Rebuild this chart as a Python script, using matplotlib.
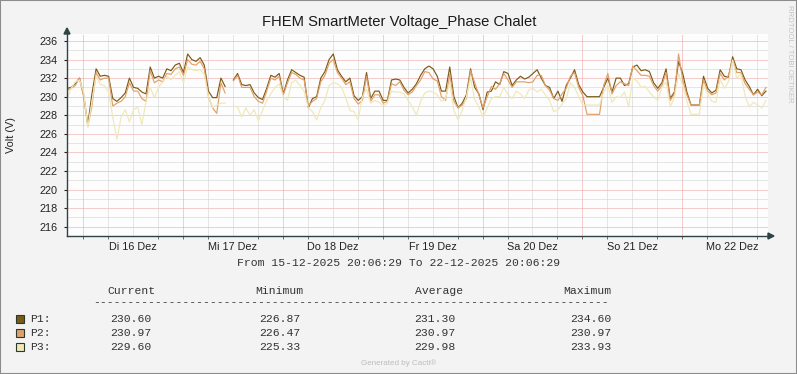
import numpy as np
import pandas as pd
import matplotlib
matplotlib.use('Agg')
import matplotlib.pyplot as plt
from matplotlib.patches import Rectangle, Polygon
from matplotlib.lines import Line2D

plt.rcParams['font.family'] = ['Liberation Sans', 'DejaVu Sans']

# hourly values, starting 15-12-2025 20:06:29
p1 = [230.9, 231.0, 231.4, 232.0, 230.2, 227.0, 230.3, 233.0, 232.2, 232.3, 232.2, 229.8,
      229.5, 229.9, 230.4, 232.0, 231.0, 230.9, 230.5, 230.3, 233.2, 232.0, 232.2, 232.0,
      233.0, 232.8, 233.4, 233.6, 232.6, 234.6, 234.0, 233.8, 234.2, 233.4, 230.6, 229.9,
      229.9, 232.0, 231.1, np.nan, 231.8, 232.5, 231.3, 231.2, 231.3, 230.4, 229.9, 229.7,
      230.9, 232.3, 232.1, 232.5, 230.3, 231.8, 232.9, 232.6, 232.3, 232.1, 228.8, 229.8,
      230.0, 232.0, 232.7, 234.0, 234.6, 232.9, 232.2, 231.6, 232.0, 230.1, 229.6, 230.0,
      232.6, 229.8, 230.6, 230.6, 229.6, 229.6, 231.8, 231.9, 231.8, 231.0, 230.4, 230.8,
      231.4, 232.3, 233.0, 233.3, 233.0, 232.2, 230.6, 230.6, 233.2, 230.0, 228.8, 229.3,
      230.2, 233.0, 231.0, 230.3, 228.6, 230.5, 230.6, 231.6, 231.3, 232.7, 232.5, 231.2,
      231.8, 232.2, 231.9, 232.1, 232.5, 232.9, 232.0, 231.2, 231.0, 229.8, 230.6, 229.5,
      231.2, 232.0, 232.9, 231.3, 230.5, 230.0, 230.0, 230.0, 230.0, 231.0, 232.0, 230.5,
      232.0, 232.0, 231.2, 231.4, 233.2, 233.4, 232.8, 232.9, 232.7, 231.5, 230.9, 231.5,
      233.0, 229.8, 230.5, 233.8, 232.5, 230.5, 229.1, 229.1, 229.1, 232.2, 230.9, 230.4,
      230.7, 232.9, 232.2, 232.1, 234.3, 233.0, 232.9, 231.8, 231.1, 230.2, 230.8, 230.1,
      230.6]
p2 = [230.7, 230.9, 231.2, 232.0, 230.0, 226.8, 229.0, 232.6, 231.8, 232.0, 232.0, 229.0,
      229.3, 229.5, 230.0, 231.5, 230.6, 230.6, 229.8, 229.5, 232.8, 231.5, 231.8, 231.6,
      232.5, 232.4, 233.0, 233.2, 232.3, 234.0, 233.5, 233.4, 233.8, 233.0, 230.0, 228.8,
      228.2, 231.5, 230.4, np.nan, 231.7, 232.3, 231.0, 231.0, 231.0, 230.0, 229.5, 229.3,
      230.6, 232.0, 231.8, 232.2, 230.2, 231.5, 232.6, 232.4, 232.0, 231.8, 229.0, 229.5,
      229.8, 231.6, 232.3, 233.6, 234.0, 232.6, 232.0, 231.3, 231.6, 229.8, 229.2, 229.6,
      232.2, 229.5, 230.2, 230.2, 229.3, 229.5, 231.4, 231.2, 231.6, 230.7, 230.2, 230.5,
      231.2, 231.8, 232.7, 232.6, 231.9, 231.7, 230.0, 229.6, 232.4, 229.5, 228.8, 229.1,
      229.8, 232.8, 231.5, 230.2, 228.8, 230.0, 231.1, 230.8, 231.4, 232.5, 231.8, 231.0,
      231.6, 231.6, 231.6, 231.5, 231.6, 232.3, 232.3, 231.2, 230.7, 229.8, 229.6, 230.3,
      230.9, 232.2, 232.6, 231.0, 230.1, 228.1, 228.1, 228.1, 228.1, 231.2, 232.5, 230.3,
      231.2, 231.6, 231.4, 231.2, 233.3, 232.8, 232.3, 232.3, 232.2, 231.2, 230.6, 231.2,
      232.6, 229.6, 230.3, 234.6, 231.8, 230.2, 229.1, 229.1, 229.1, 231.8, 230.6, 230.2,
      230.4, 232.5, 231.8, 232.3, 234.0, 232.6, 232.6, 231.4, 230.8, 230.2, 230.5, 230.2,
      231.0]
p3 = [229.8, 230.9, 231.6, 231.8, 230.5, 226.7, 229.5, 232.3, 231.3, 231.2, 230.5, 227.8,
      225.4, 227.8, 228.6, 227.3, 228.6, 228.9, 227.0, 229.5, 231.0, 229.9, 231.0, 231.6,
      232.2, 231.8, 232.3, 232.7, 231.5, 233.2, 232.9, 232.8, 232.9, 232.4, 230.0, 228.8,
      229.1, 229.3, 229.3, np.nan, 229.0, 228.9, 227.8, 228.8, 228.0, 228.6, 227.4, 228.5,
      229.6, 230.3, 231.0, 231.4, 230.0, 229.6, 231.5, 231.8, 231.2, 230.6, 228.8, 228.4,
      227.5, 228.8, 229.6, 231.2, 231.5, 231.4, 231.0, 229.9, 228.5, 228.4, 227.5, 230.0,
      230.8, 229.3, 229.6, 229.4, 229.0, 229.3, 230.6, 230.5, 230.5, 230.3, 229.6, 228.9,
      228.0, 229.5, 230.4, 230.6, 230.5, 230.2, 229.5, 229.8, 231.6, 228.5, 227.5, 228.5,
      230.0, 232.0, 229.7, 228.9, 227.8, 228.8, 229.8, 230.0, 230.0, 231.0, 230.2, 229.8,
      230.6, 230.3, 229.8, 230.7, 230.9, 230.5, 230.8, 230.2, 229.6, 228.4, 228.6, 229.2,
      229.8, 231.5, 231.0, 230.0, 229.1, 229.1, 229.1, 229.1, 229.1, 230.5, 231.2, 229.4,
      230.0, 229.9, 230.5, 228.9, 232.0, 231.7, 231.0, 231.1, 230.5, 230.0, 229.6, 231.0,
      231.6, 228.9, 229.9, 232.5, 231.2, 229.5, 228.1, 228.1, 228.1, 231.2, 230.3, 229.5,
      229.4, 231.9, 230.9, 231.6, 233.9, 232.0, 232.4, 230.1, 228.9, 229.4, 229.1, 228.8,
      229.6]

names = ['P1:', 'P2:', 'P3:']
colors = ['#7A5A16', '#E2A068', '#EFE8BA']
cur = ['230.60', '230.97', '229.60']
vmin = ['226.87', '226.47', '225.33']
vavg = ['231.30', '230.97', '229.98']
vmax = ['234.60', '230.97', '233.93']
day_labels = ['Di 16 Dez', 'Mi 17 Dez', 'Do 18 Dez', 'Fr 19 Dez',
              'Sa 20 Dez', 'So 21 Dez', 'Mo 22 Dez']

start = pd.Timestamp('2025-12-15 20:06:29')
end = pd.Timestamp('2025-12-22 20:06:29')
times = pd.date_range(start, periods=len(p1), freq='h')

W, H = 797, 374
fig = plt.figure(figsize=(W / 100, H / 100), dpi=100, facecolor='#F3F3F3')


def fx(px):
    return px / W


def fy(py):
    return 1 - py / H


ax = fig.add_axes([fx(67), fy(236), (768 - 67) / W, (236 - 34) / H], facecolor='#FDFDFD')
ax.set_xlim(start, end + pd.Timedelta(minutes=30))
ax.set_ylim(215.0, 236.75)

# dotted grid: red on the major steps, grey on the minor ones
dot = (0, (1, 1))
for v in np.arange(215, 237, 1):
    col = '#EE9C9C' if v % 2 == 0 else '#CFCFCF'
    ax.axhline(v, color=col, lw=0.72, ls=dot, zorder=1)
six = pd.date_range('2025-12-16 00:00', '2025-12-22 18:00', freq='6h')
for t in six:
    col = '#EE9C9C' if t.hour == 0 else '#CFCFCF'
    ax.axvline(t, color=col, lw=0.72, ls=dot, zorder=1)

for vals, c in zip([p1, p2, p3], colors):
    ax.plot(times, vals, color=c, lw=0.85, zorder=3)

for s in ax.spines.values():
    s.set_visible(False)
noons = pd.date_range('2025-12-16 12:00', periods=len(day_labels), freq='D')
ax.set_xticks(noons)
ax.set_xticklabels(day_labels)
ax.set_xticks(six, minor=True)
ax.tick_params(axis='x', which='major', length=0, pad=4, labelsize=7.8, colors='#222222')
ax.tick_params(axis='x', which='minor', length=2.5, direction='out', color='#555555')
ax.set_yticks(np.arange(216, 237, 2))
ax.tick_params(axis='y', length=2, direction='out', pad=5, labelsize=7.8,
               colors='#222222')
fig.text(fx(11), fy(135), 'Volt (V)', rotation=90, ha='center', va='center',
         fontsize=7.8, color='#222222')

axc = '#2F4343'
fig.add_artist(Line2D([fx(67), fx(769)], [fy(236), fy(236)], color=axc, lw=1,
                      transform=fig.transFigure))
fig.add_artist(Line2D([fx(67), fx(67)], [fy(236), fy(32)], color=axc, lw=1,
                      transform=fig.transFigure))
fig.add_artist(Polygon([[fx(768), fy(233)], [fx(774), fy(236)], [fx(768), fy(239)]],
                       closed=True, color=axc, transform=fig.transFigure))
fig.add_artist(Polygon([[fx(64), fy(34)], [fx(67), fy(28)], [fx(70), fy(34)]],
                       closed=True, color=axc, transform=fig.transFigure))

fig.text(fx(399), fy(22), 'FHEM SmartMeter Voltage_Phase Chalet', ha='center',
         va='center', fontsize=10.6, color='#1A1A1A')
fig.text(fx(789), fy(5), 'RRDTOOL / TOBI OETIKER', rotation=270, ha='center', va='top',
         fontsize=5.6, color='#C4C4C4')

mono = 'Liberation Mono'
tc = '#333333'
fig.text(fx(399), fy(263), 'From 15-12-2025 20:06:29 To 22-12-2025 20:06:29',
         ha='center', va='center', family=mono, fontsize=8.2, color=tc)

hy = 291
for label, xr in zip(['Current', 'Minimum', 'Average', 'Maximum'], [155, 303, 463, 611]):
    fig.text(fx(xr), fy(hy), label, ha='right', va='center', family=mono,
             fontsize=8.2, color=tc)
fig.text(fx(93), fy(302), '-' * 75, ha='left', va='center', family=mono,
         fontsize=8.2, color=tc)

rows_y = [319, 333, 347]
for i, ry in enumerate(rows_y):
    fig.add_artist(Rectangle((fx(15.5), fy(ry + 4)), 8 / W, 8 / H, facecolor=colors[i],
                             edgecolor='#2A3A2A', lw=0.8, transform=fig.transFigure))
    fig.text(fx(30), fy(ry), names[i], ha='left', va='center', family=mono,
             fontsize=8.2, color=tc)
    for val, xr in zip([cur[i], vmin[i], vavg[i], vmax[i]], [151, 300, 455, 611]):
        fig.text(fx(xr), fy(ry), val, ha='right', va='center', family=mono,
                 fontsize=8.2, color=tc)

fig.text(fx(399), fy(363), 'Generated by Cacti®', ha='center', va='center',
         fontsize=5.8, color='#BDBDBD')

fig.add_artist(Rectangle((0, 0), 1, 1, fill=False, edgecolor='#8C8C8C', lw=1.5,
                         transform=fig.transFigure))

fig.savefig('out.png', dpi=100, facecolor=fig.get_facecolor())
